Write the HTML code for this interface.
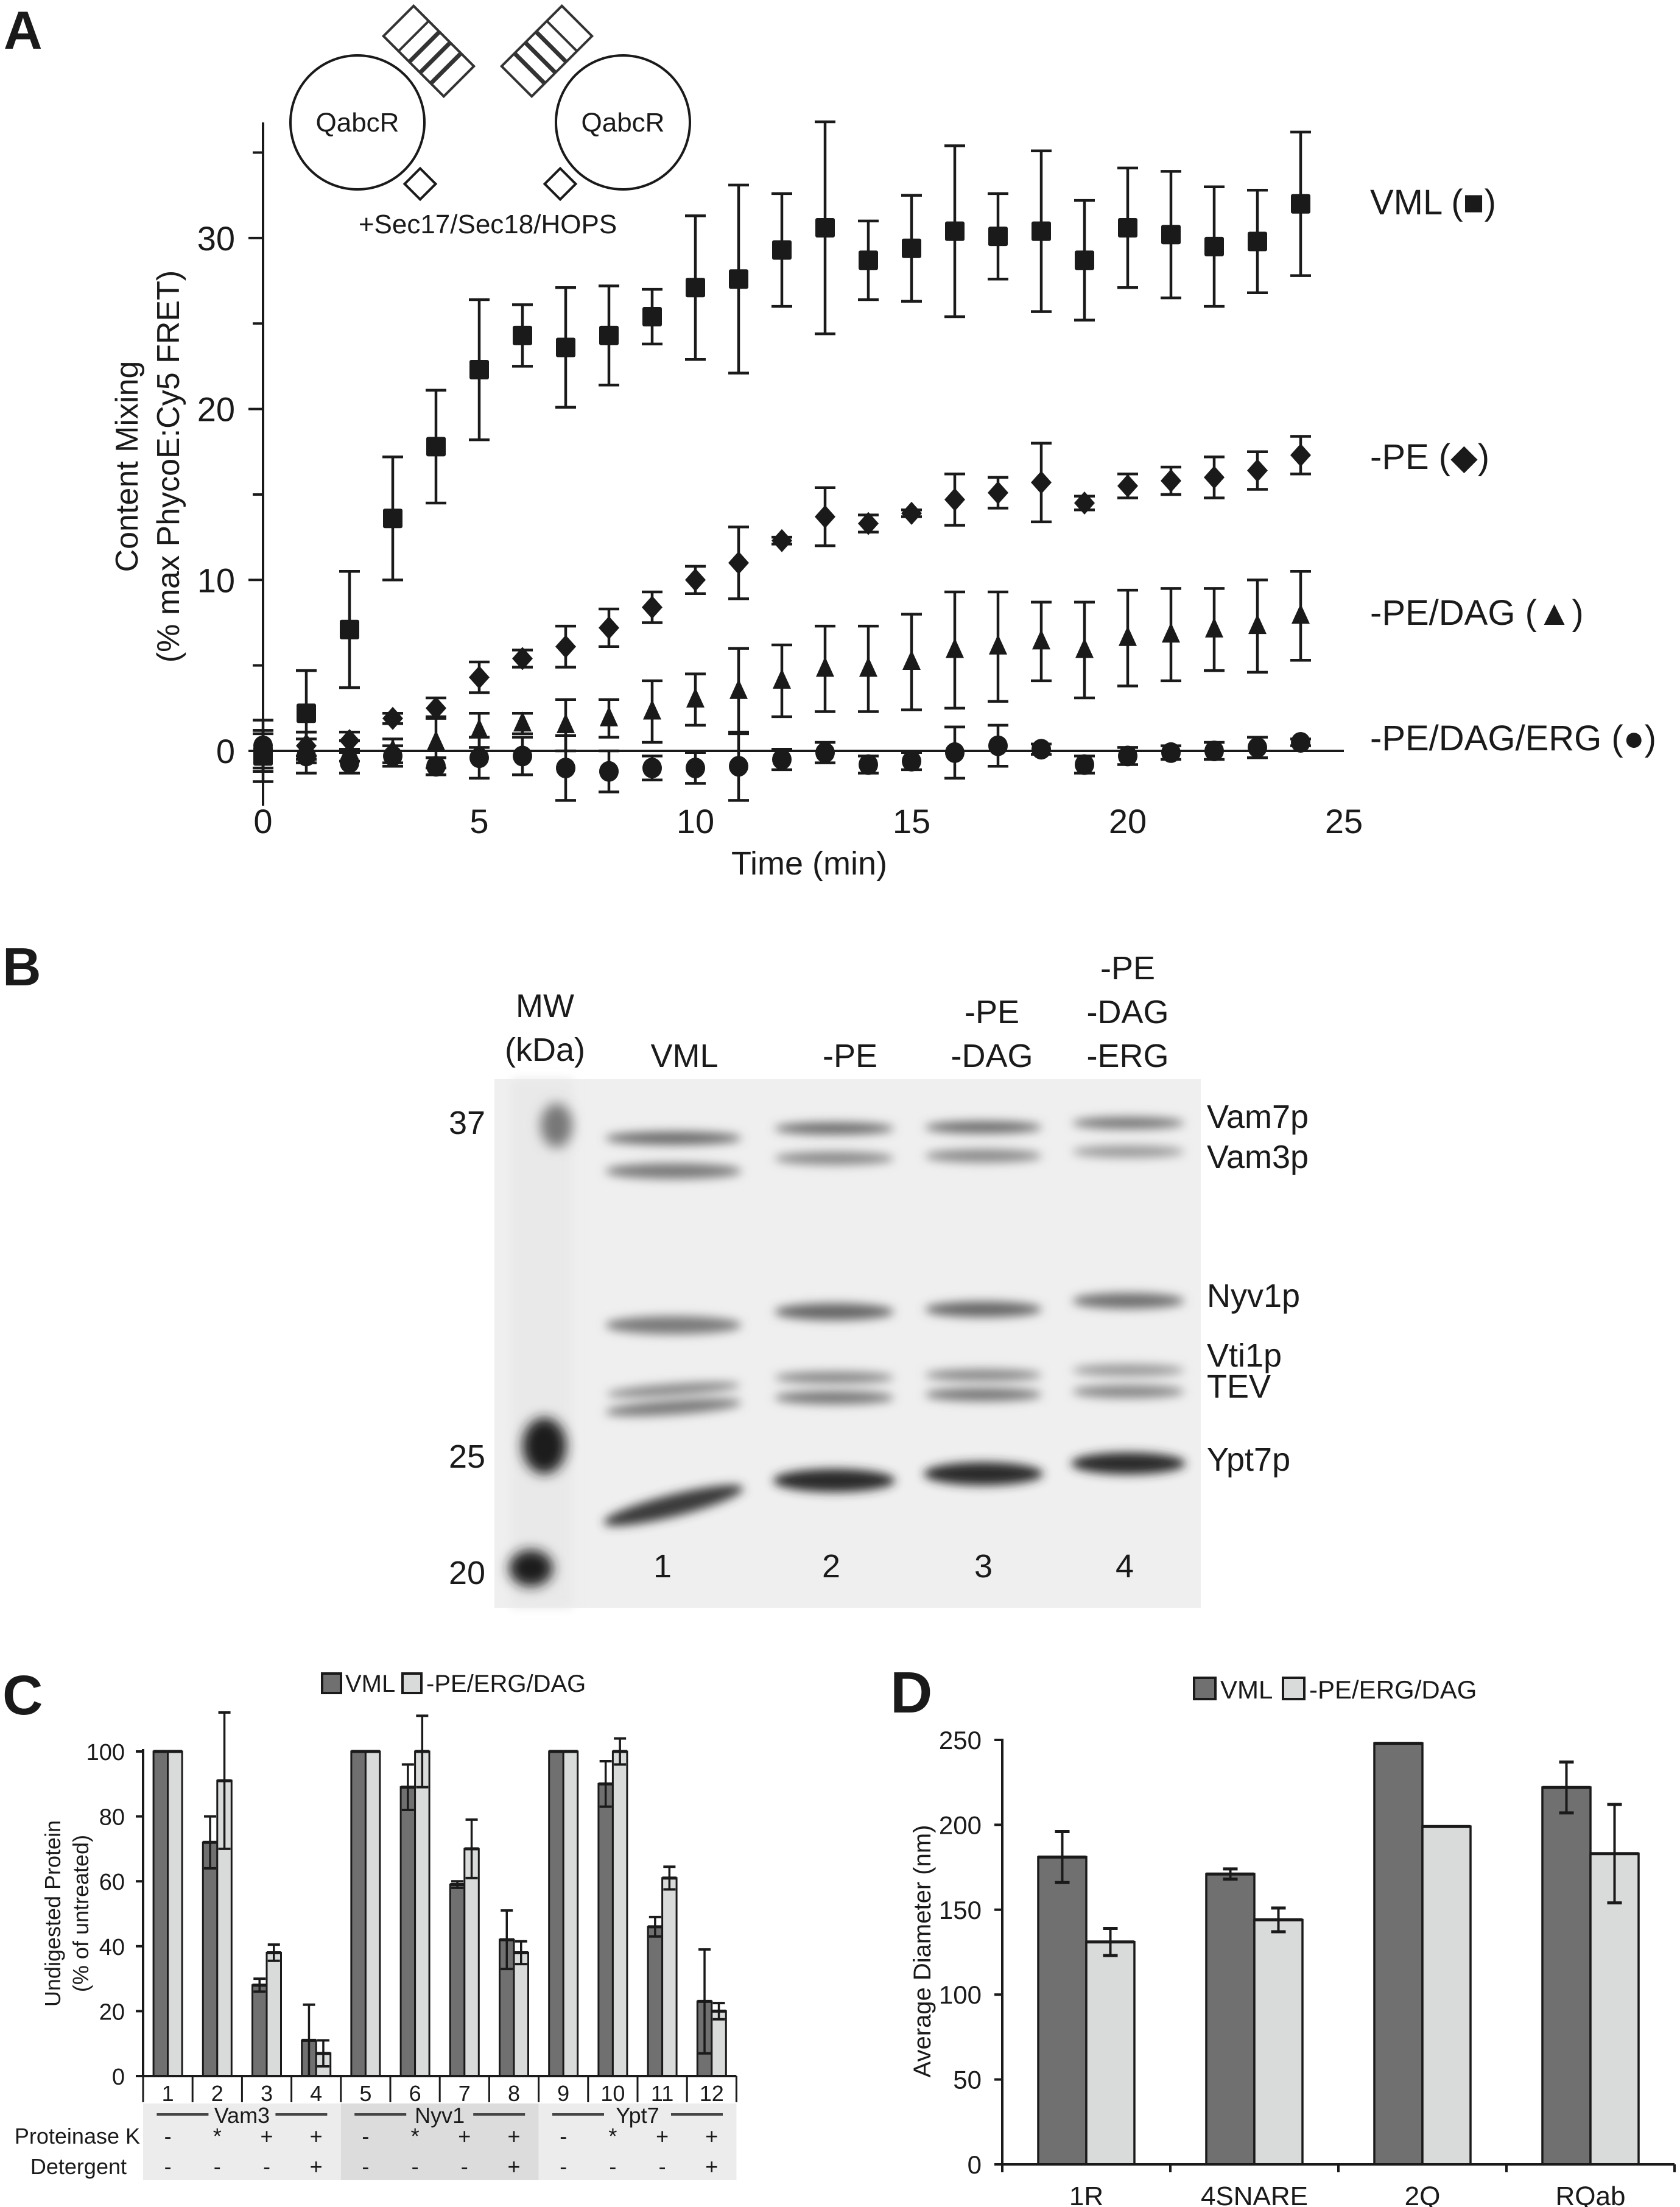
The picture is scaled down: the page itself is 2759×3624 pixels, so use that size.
<!DOCTYPE html>
<html><head><meta charset="utf-8"><style>
html,body{margin:0;padding:0;background:#fff}
svg{display:block}
text{font-family:"Liberation Sans",Arial,sans-serif;fill:#1a1a1a}
</style></head><body>
<svg id="fig" width="2759" height="3624" viewBox="0 0 2759 3624" xmlns="http://www.w3.org/2000/svg">
<defs>
<filter id="blur" x="-20%" y="-100%" width="140%" height="300%"><feGaussianBlur stdDeviation="8"/></filter>
<filter id="blur2" x="-50%" y="-50%" width="200%" height="200%"><feGaussianBlur stdDeviation="10"/></filter>
</defs>
<text x="6" y="80" font-size="88" font-weight="bold">A</text>
<g id="inset" fill="none" stroke="#1a1a1a" stroke-width="4">
  <circle cx="587" cy="201" r="110"/>
  <circle cx="1023" cy="201" r="110"/>
  <g transform="translate(704,84) rotate(-45)" stroke="#333">
    <rect x="-35" y="-70" width="70" height="140" fill="#fff"/>
    <line x1="-35" y1="-35" x2="35" y2="-35"/><line x1="-35" y1="-10" x2="35" y2="-10" stroke-width="7"/>
    <line x1="-35" y1="15" x2="35" y2="15" stroke-width="7"/><line x1="-35" y1="40" x2="35" y2="40" stroke-width="7"/>
  </g>
  <g transform="translate(898,84) rotate(45)" stroke="#333">
    <rect x="-35" y="-70" width="70" height="140" fill="#fff"/>
    <line x1="-35" y1="-35" x2="35" y2="-35"/><line x1="-35" y1="-10" x2="35" y2="-10" stroke-width="7"/>
    <line x1="-35" y1="15" x2="35" y2="15" stroke-width="7"/><line x1="-35" y1="40" x2="35" y2="40" stroke-width="7"/>
  </g>
  <rect x="-18" y="-18" width="36" height="36" fill="#fff" transform="translate(690,302) rotate(45)"/>
  <rect x="-18" y="-18" width="36" height="36" fill="#fff" transform="translate(920,302) rotate(45)"/>
</g>
<text x="587" y="216" font-size="44" text-anchor="middle">QabcR</text>
<text x="1023" y="216" font-size="44" text-anchor="middle">QabcR</text>
<text x="801" y="383" font-size="44" text-anchor="middle">+Sec17/Sec18/HOPS</text>
<g id="chartA"></g>
<text x="1329" y="1436" font-size="54" text-anchor="middle">Time (min)</text>
<text transform="translate(226,766) rotate(-90)" font-size="52" text-anchor="middle">Content Mixing</text>
<text transform="translate(294,766) rotate(-90)" font-size="52" text-anchor="middle">(% max PhycoE:Cy5 FRET)</text>
<text x="2250" y="352" font-size="58">VML (■)</text>
<text x="2250" y="770" font-size="58">-PE (◆)</text>
<text x="2250" y="1026" font-size="58">-PE/DAG (▲)</text>
<text x="2250" y="1232" font-size="58">-PE/DAG/ERG (●)</text>

<text x="4" y="1618" font-size="88" font-weight="bold">B</text>
<g id="gel">
  <rect x="812" y="1772" width="1160" height="868" fill="#efefef"/>
  <rect x="840" y="1772" width="100" height="868" fill="#e9e9e9" filter="url(#blur)"/>
</g>
<g font-size="54" text-anchor="middle">
<text x="895" y="1670">MW</text><text x="895" y="1742">(kDa)</text>
<text x="1124" y="1752">VML</text><text x="1396" y="1752">-PE</text>
<text x="1629" y="1680">-PE</text><text x="1629" y="1752">-DAG</text>
<text x="1852" y="1608">-PE</text><text x="1852" y="1680">-DAG</text><text x="1852" y="1752">-ERG</text>
<text x="767" y="1862">37</text><text x="767" y="2410">25</text><text x="767" y="2601">20</text>
<text x="1088" y="2590">1</text><text x="1365" y="2590">2</text><text x="1615" y="2590">3</text><text x="1847" y="2590">4</text>
</g>
<g font-size="54">
<text x="1982" y="1852">Vam7p</text><text x="1982" y="1918">Vam3p</text><text x="1982" y="2146">Nyv1p</text>
<text x="1982" y="2244">Vti1p</text><text x="1982" y="2295">TEV</text><text x="1982" y="2415">Ypt7p</text>
</g>

<text x="4" y="2815" font-size="92" font-weight="bold">C</text>
<g id="chartC"></g>
<text x="1462" y="2812" font-size="96" font-weight="bold">D</text>
<g id="chartD"></g>
</svg>
<script>
// ---------- Panel A data ----------
const aTimes = [0,1,2,3,4,5,6,7,8,9,10,11,12,13,14,15,16,17,18,19,20,21,22,23,24];
const vml    = [-0.3,2.2,7.1,13.6,17.8,22.3,24.3,23.6,24.3,25.4,27.1,27.6,29.3,30.6,28.7,29.4,30.4,30.1,30.4,28.7,30.6,30.2,29.5,29.8,32.0];
const vmlErr = [1.5,2.5,3.4,3.6,3.3,4.1,1.8,3.5,2.9,1.6,4.2,5.5,3.3,6.2,2.3,3.1,5.0,2.5,4.7,3.5,3.5,3.7,3.5,3.0,4.2];
const pe     = [0.0,0.3,0.6,1.9,2.5,4.3,5.4,6.1,7.2,8.4,10.0,11.0,12.3,13.7,13.3,13.9,14.7,15.1,15.7,14.5,15.5,15.8,16.0,16.4,17.3];
const peErr  = [1.2,0.8,0.5,0.3,0.6,0.9,0.5,1.2,1.1,0.9,0.8,2.1,0.2,1.7,0.5,0.2,1.5,0.9,2.3,0.4,0.7,0.8,1.2,1.1,1.1];
const dag    = [0.0,0.2,0.0,0.0,0.5,1.2,1.6,1.5,1.9,2.3,3.0,3.5,4.1,4.8,4.8,5.2,5.9,6.1,6.4,5.9,6.6,6.8,7.1,7.3,7.9];
const dagErr = [1.0,0.9,0.6,0.7,1.5,1.0,0.6,1.5,1.1,1.8,1.5,2.5,2.1,2.5,2.5,2.8,3.4,3.2,2.3,2.8,2.8,2.7,2.4,2.7,2.6];
const erg    = [0.3,-0.3,-0.7,-0.3,-0.9,-0.4,-0.3,-1.0,-1.2,-1.0,-1.0,-0.9,-0.5,-0.1,-0.8,-0.6,-0.1,0.3,0.1,-0.8,-0.3,-0.1,0.0,0.2,0.5];
const ergErr = [1.5,1.0,0.6,0.6,0.5,1.2,1.1,1.9,1.2,0.7,0.9,2.0,0.6,0.6,0.5,0.5,1.5,1.2,0.3,0.5,0.5,0.4,0.5,0.6,0.2];
const aXTicks = [0,5,10,15,20,25];
const aYMajor = [0,10,20,30];
const aYMinor = [5,15,25,35];

// ---------- Panel C data ----------
const cLanes  = ['1','2','3','4','5','6','7','8','9','10','11','12'];
const cVml    = [100,72,28,11,100,89,59,42,100,90,46,23];
const cVmlErr = [0,8,2,11,0,7,1,9,0,7,3,16];
const cPe     = [100,91,38,7,100,100,70,38,100,100,61,20];
const cPeErr  = [0,21,2.5,4,0,11,9,3.5,0,4,3.5,2.5];
const cYTicks = [0,20,40,60,80,100];
const cGroups = ['Vam3','Nyv1','Ypt7'];
const cProtK  = ['-','*','+','+','-','*','+','+','-','*','+','+'];
const cDeterg = ['-','-','-','+','-','-','-','+','-','-','-','+'];

// ---------- Panel D data ----------
const dCats   = ['1R','4SNARE','2Q','RQab'];
const dVml    = [181,171,248,222];
const dVmlErr = [15,3,0,15];
const dPe     = [131,144,199,183];
const dPeErr  = [8,7,0,29];
const dYTicks = [0,50,100,150,200,250];

const NS='http://www.w3.org/2000/svg';
function mk(parent,tag,attrs,txt){const e=document.createElementNS(NS,tag);for(const k in attrs)e.setAttribute(k,attrs[k]);if(txt!==undefined)e.textContent=txt;parent.appendChild(e);return e;}
const INK='#1a1a1a';

// ===== Panel A =====
(function(){
  const g=document.getElementById('chartA');
  const x=t=>432+t*71.0, y=v=>1233-v*28.07;
  let e=mk(g,'line',{x1:x(0),y1:201,x2:x(0),y2:1323,stroke:INK,'stroke-width':4});
  
  
  e=mk(g,'line',{x1:x(0),y1:y(0),x2:x(25),y2:y(0),stroke:INK,'stroke-width':4});
  
  
  aYMajor.forEach(v=>{mk(g,'line',{x1:x(0)-24,y1:y(v),x2:x(0),y2:y(v),stroke:INK,'stroke-width':4});
    const t=mk(g,'text',{x:x(0)-46,y:y(v)+20,'font-size':56,'text-anchor':'end'},String(v));
    
    });
  aYMinor.forEach(v=>mk(g,'line',{x1:x(0)-17,y1:y(v),x2:x(0),y2:y(v),stroke:INK,'stroke-width':4}));
  aXTicks.forEach(v=>{const t=mk(g,'text',{x:x(v),y:1368,'font-size':56,'text-anchor':'middle'},String(v));
    
    });
  function series(vals,errs,shape,name){
    const sg=mk(g,'g',{});
    
    
    vals.forEach((v,i)=>{
      const cx=x(aTimes[i]),cy=y(v),hi=y(v+errs[i]),lo=y(v-errs[i]);
      mk(sg,'line',{x1:cx,y1:hi,x2:cx,y2:lo,stroke:INK,'stroke-width':4.5});
      mk(sg,'line',{x1:cx-17,y1:hi,x2:cx+17,y2:hi,stroke:INK,'stroke-width':4.5});
      mk(sg,'line',{x1:cx-17,y1:lo,x2:cx+17,y2:lo,stroke:INK,'stroke-width':4.5});
      let m;
      if(shape==='sq') m=mk(sg,'rect',{x:cx-16,y:cy-16,width:32,height:32,rx:3,fill:INK});
      else if(shape==='di') m=mk(sg,'polygon',{points:`${cx},${cy-19} ${cx+17},${cy} ${cx},${cy+19} ${cx-17},${cy}`,fill:INK});
      else if(shape==='tr') m=mk(sg,'polygon',{points:`${cx},${cy-20} ${cx+15},${cy+13} ${cx-15},${cy+13}`,fill:INK});
      else m=mk(sg,'ellipse',{cx:cx,cy:cy,rx:16,ry:17,fill:INK});
      
      
    });
  }
  series(erg,ergErr,'ci','series-pe-dag-erg');
  series(dag,dagErr,'tr','series-pe-dag');
  series(pe,peErr,'di','series-pe');
  series(vml,vmlErr,'sq','series-vml');
})();

// ===== Gel bands =====
(function(){
  const g=document.getElementById('gel');
  const bands=[
    [1106,1869,112,11,'#6a6a6a',0],[1106,1923,112,13,'#7a7a7a',0],[1106,2176,112,15,'#7a7a7a',0],
    [1106,2282,110,10,'#8a8a8a',-4],[1106,2311,112,12,'#7a7a7a',-4],[1106,2472,118,18,'#3a3a3a',-14],
    [1370,1853,98,10,'#6a6a6a',0],[1370,1902,98,11,'#8a8a8a',0],[1370,2154,98,14,'#666',0],
    [1370,2262,98,10,'#888',0],[1370,2295,98,11,'#777',0],[1370,2431,100,19,'#2a2a2a',0],
    [1615,1851,96,10,'#6a6a6a',0],[1615,1898,96,11,'#8a8a8a',0],[1615,2150,96,13,'#666',0],
    [1615,2258,96,10,'#888',0],[1615,2290,96,11,'#777',0],[1615,2420,98,19,'#2a2a2a',0],
    [1853,1844,92,10,'#777',0],[1853,1891,92,10,'#999',0],[1853,2136,92,13,'#707070',0],
    [1853,2250,92,10,'#999',0],[1853,2285,92,11,'#888',0],[1853,2403,94,18,'#2a2a2a',0]];
  bands.forEach(b=>{const e=mk(g,'ellipse',{cx:b[0],cy:b[1],rx:b[2],ry:b[3],fill:b[4],filter:'url(#blur)',transform:`rotate(${b[5]} ${b[0]} ${b[1]})`});
    
    });
  [[914,1848,26,36,'#777'],[894,2374,36,46,'#1e1e1e'],[872,2575,36,30,'#1e1e1e']].forEach(b=>{
    const e=mk(g,'ellipse',{cx:b[0],cy:b[1],rx:b[2],ry:b[3],fill:b[4],filter:'url(#blur2)'});
    
    });
})();

// ===== Panel C =====
(function(){
  const g=document.getElementById('chartC');
  const x0=235, gw=81.2, bw=23.5;
  const y=v=>3409-v*5.33;
  [['#ececec',0],['#dcdcdc',4],['#ececec',8]].forEach(s=>mk(g,'rect',{x:x0+s[1]*gw,y:3454,width:4*gw,height:126,fill:s[0]}));
  let e=mk(g,'rect',{x:529,y:2748,width:31,height:32,fill:'#707070',stroke:INK,'stroke-width':4});
  
  
  mk(g,'text',{x:567,y:2778,'font-size':40},'VML');
  e=mk(g,'rect',{x:661,y:2748,width:31,height:32,fill:'#d9dada',stroke:INK,'stroke-width':4});
  
  
  mk(g,'text',{x:700,y:2778,'font-size':40},'-PE/ERG/DAG');
  mk(g,'line',{x1:x0,y1:y(0),x2:x0,y2:y(100)-4,stroke:INK,'stroke-width':4});
  cYTicks.forEach(v=>{mk(g,'line',{x1:x0-12,y1:y(v),x2:x0,y2:y(v),stroke:INK,'stroke-width':4});
    const t=mk(g,'text',{x:205,y:y(v)+14,'font-size':38,'text-anchor':'end'},String(v));
    
    });
  function bar(cx,v,err,fill,name){
    const r=mk(g,'rect',{x:cx-bw/2,y:y(v),width:bw,height:y(0)-y(v),fill:fill,stroke:INK,'stroke-width':3});
    
    
    mk(g,'line',{x1:cx-bw/2,y1:y(v),x2:cx+bw/2,y2:y(v),stroke:INK,'stroke-width':5});
    if(err>0){const hi=y(v+err),lo=y(v-err);
      mk(g,'line',{x1:cx,y1:hi,x2:cx,y2:lo,stroke:INK,'stroke-width':3.5});
      mk(g,'line',{x1:cx-10,y1:hi,x2:cx+10,y2:hi,stroke:INK,'stroke-width':4});
      mk(g,'line',{x1:cx-10,y1:lo,x2:cx+10,y2:lo,stroke:INK,'stroke-width':4});}
  }
  cLanes.forEach((l,i)=>{
    const c=x0+gw*i+gw/2;
    bar(c-bw/2,cVml[i],cVmlErr[i],'#707070','bar-vml-lane-'+l);
    bar(c+bw/2,cPe[i],cPeErr[i],'#d9dada','bar-pe-lane-'+l);
    const t=mk(g,'text',{x:c,y:3450,'font-size':36,'text-anchor':'middle'},l);
    
    
    mk(g,'text',{x:c,y:3520,'font-size':36,'text-anchor':'middle'},cProtK[i]);
    mk(g,'text',{x:c,y:3570,'font-size':36,'text-anchor':'middle'},cDeterg[i]);
  });
  for(let i=0;i<=12;i++) mk(g,'line',{x1:x0+gw*i,y1:y(0),x2:x0+gw*i,y2:3452,stroke:INK,'stroke-width':3});
  mk(g,'line',{x1:x0,y1:y(0),x2:x0+12*gw,y2:y(0),stroke:INK,'stroke-width':4});
  cGroups.forEach((n,i)=>{const c=x0+gw*(4*i+2);
    mk(g,'line',{x1:c-140,y1:3472,x2:c-55,y2:3472,stroke:'#444','stroke-width':4});
    mk(g,'line',{x1:c+55,y1:3472,x2:c+140,y2:3472,stroke:'#444','stroke-width':4});
    const t=mk(g,'text',{x:c,y:3486,'font-size':36,'text-anchor':'middle'},n);
    
    });
  mk(g,'text',{x:230,y:3520,'font-size':36,'text-anchor':'end'},'Proteinase K');
  mk(g,'text',{x:208,y:3570,'font-size':36,'text-anchor':'end'},'Detergent');
  e=mk(g,'text',{transform:'translate(99,3142) rotate(-90)','font-size':36,'text-anchor':'middle'},'Undigested Protein');
  
  
  mk(g,'text',{transform:'translate(145,3142) rotate(-90)','font-size':36,'text-anchor':'middle'},'(% of untreated)');
})();

// ===== Panel D =====
(function(){
  const g=document.getElementById('chartD');
  const x0=1646, gw=276, bw=79;
  const y=v=>3554-v*2.788;
  let e=mk(g,'rect',{x:1961,y:2755,width:35,height:35,fill:'#707070',stroke:INK,'stroke-width':4});
  
  
  mk(g,'text',{x:2004,y:2789,'font-size':42},'VML');
  e=mk(g,'rect',{x:2107,y:2755,width:35,height:35,fill:'#d9dada',stroke:INK,'stroke-width':4});
  
  
  mk(g,'text',{x:2150,y:2789,'font-size':42},'-PE/ERG/DAG');
  mk(g,'line',{x1:x0,y1:y(0),x2:x0,y2:y(250)-2,stroke:INK,'stroke-width':4});
  dYTicks.forEach(v=>{mk(g,'line',{x1:x0-13,y1:y(v),x2:x0,y2:y(v),stroke:INK,'stroke-width':4});
    const t=mk(g,'text',{x:1612,y:y(v)+15,'font-size':42,'text-anchor':'end'},String(v));
    
    });
  function bar(cx,v,err,fill,name){
    const r=mk(g,'rect',{x:cx-bw/2,y:y(v),width:bw,height:y(0)-y(v),fill:fill,stroke:INK,'stroke-width':3.5});
    
    
    mk(g,'line',{x1:cx-bw/2,y1:y(v),x2:cx+bw/2,y2:y(v),stroke:INK,'stroke-width':5});
    if(err>0){const hi=y(v+err),lo=y(v-err);
      mk(g,'line',{x1:cx,y1:hi,x2:cx,y2:lo,stroke:INK,'stroke-width':4});
      mk(g,'line',{x1:cx-12,y1:hi,x2:cx+12,y2:hi,stroke:INK,'stroke-width':5});
      mk(g,'line',{x1:cx-12,y1:lo,x2:cx+12,y2:lo,stroke:INK,'stroke-width':5});}
  }
  dCats.forEach((c,i)=>{
    const cc=x0+gw*i+gw/2;
    bar(cc-bw/2,dVml[i],dVmlErr[i],'#707070','bar-vml-'+c);
    bar(cc+bw/2,dPe[i],dPeErr[i],'#d9dada','bar-pe-'+c);
    const t=mk(g,'text',{x:cc,y:3621,'font-size':44,'text-anchor':'middle'},c);
    
    
  });
  mk(g,'line',{x1:x0,y1:y(0),x2:x0+4*gw,y2:y(0),stroke:INK,'stroke-width':4});
  for(let i=0;i<=4;i++) mk(g,'line',{x1:x0+gw*i,y1:y(0),x2:x0+gw*i,y2:y(0)+13,stroke:INK,'stroke-width':4});
  e=mk(g,'text',{transform:'translate(1528,3204) rotate(-90)','font-size':40,'text-anchor':'middle'},'Average Diameter (nm)');
  
  
})();
</script>
</body></html>
